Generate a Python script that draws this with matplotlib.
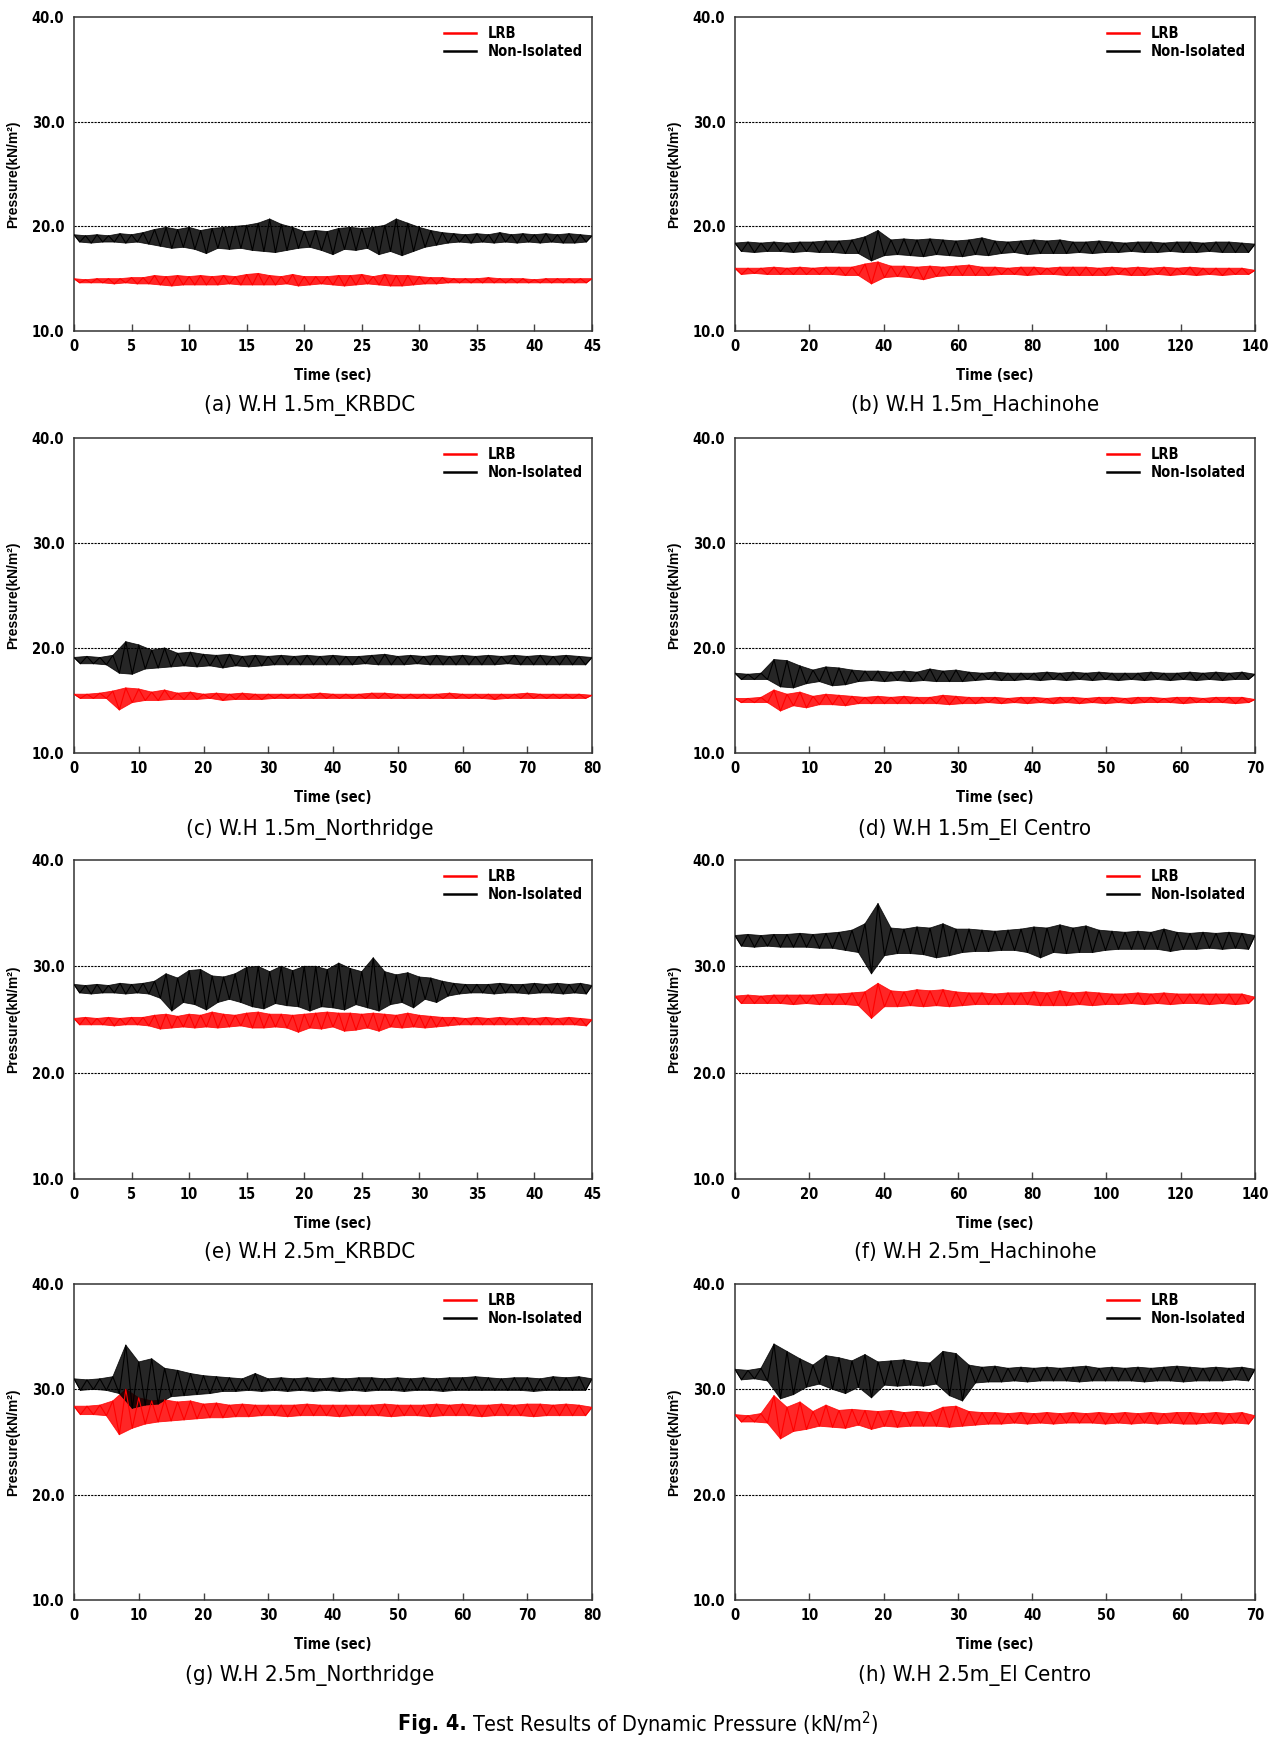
import matplotlib.pyplot as plt
import numpy as np

plt.rcParams['font.family'] = ['DejaVu Sans']
plt.rcParams['font.stretch'] = 'condensed'

# panel captions, record length (sec) and x tick step
titles = ['(a) W.H 1.5m_KRBDC', '(b) W.H 1.5m_Hachinohe',
          '(c) W.H 1.5m_Northridge', '(d) W.H 1.5m_El Centro',
          '(e) W.H 2.5m_KRBDC', '(f) W.H 2.5m_Hachinohe',
          '(g) W.H 2.5m_Northridge', '(h) W.H 2.5m_El Centro']
durations = [45, 140, 80, 70, 45, 140, 80, 70]
xsteps = [5, 20, 10, 10, 5, 20, 10, 10]

# peak / trough pressures (kN/m2), evenly spaced in time
non_a = [19.2,18.5, 19.1,18.4, 19.2,18.5, 19.1,18.5, 19.3,18.4, 19.2,18.5, 19.4,18.3, 19.7,18.1,
         19.9,17.9, 19.7,18.0, 19.9,17.8, 19.6,17.4, 19.8,17.9, 19.9,17.8, 20.0,17.9, 20.1,17.7,
         20.3,17.6, 20.7,17.5, 20.2,17.7, 19.9,17.9, 19.5,18.0, 19.6,17.7, 19.5,17.3, 19.8,17.8,
         19.9,17.7, 19.8,17.9, 19.9,17.3, 20.1,17.6, 20.7,17.2, 20.3,17.6, 19.9,18.0, 19.6,18.2,
         19.4,18.4, 19.3,18.5, 19.2,18.4, 19.3,18.5, 19.2,18.4, 19.4,18.5, 19.2,18.4, 19.3,18.5,
         19.2,18.4, 19.3,18.5, 19.2,18.4, 19.3,18.4, 19.2,18.5, 19.1]
lrb_a = [15.0,14.6, 14.9,14.6, 15.0,14.6, 15.0,14.5, 15.0,14.6, 15.1,14.5, 15.1,14.5, 15.3,14.4,
         15.2,14.3, 15.3,14.4, 15.2,14.4, 15.3,14.4, 15.2,14.4, 15.3,14.5, 15.2,14.4, 15.4,14.4,
         15.5,14.4, 15.3,14.4, 15.2,14.5, 15.4,14.3, 15.2,14.4, 15.2,14.5, 15.2,14.4, 15.3,14.3,
         15.3,14.4, 15.4,14.5, 15.2,14.4, 15.4,14.3, 15.3,14.3, 15.3,14.4, 15.2,14.5, 15.1,14.5,
         15.1,14.6, 15.0,14.6, 15.0,14.6, 15.0,14.6, 15.1,14.6, 15.0,14.6, 15.0,14.6, 15.0,14.6,
         14.9,14.6, 15.0,14.6, 15.0,14.6, 15.0,14.6, 15.0,14.6, 15.0]

non_b = [18.4,17.6, 18.5,17.5, 18.4,17.6, 18.5,17.6, 18.4,17.5, 18.5,17.6, 18.5,17.5, 18.6,17.5,
         18.6,17.4, 18.7,17.4, 19.0,16.7, 19.6,17.2, 18.7,17.3, 18.8,17.2, 18.7,17.1, 18.8,17.3,
         18.7,17.2, 18.6,17.1, 18.7,17.3, 18.9,17.2, 18.6,17.4, 18.5,17.5, 18.6,17.3, 18.7,17.4,
         18.6,17.4, 18.7,17.4, 18.5,17.5, 18.5,17.4, 18.6,17.5, 18.5,17.5, 18.4,17.6, 18.5,17.5,
         18.5,17.5, 18.4,17.6, 18.5,17.5, 18.5,17.5, 18.4,17.6, 18.5,17.5, 18.5,17.5, 18.4,17.5, 18.3]
lrb_b = [16.0,15.4, 16.0,15.5, 16.0,15.4, 16.1,15.4, 16.0,15.4, 16.1,15.4, 16.0,15.4, 16.1,15.4,
         16.1,15.3, 16.1,15.3, 16.4,14.5, 16.6,15.1, 16.2,15.2, 16.2,15.1, 16.1,14.9, 16.2,15.2,
         16.1,15.3, 16.2,15.3, 16.3,15.3, 16.1,15.3, 16.1,15.4, 16.0,15.4, 16.1,15.3, 16.1,15.4,
         16.0,15.4, 16.1,15.3, 16.1,15.3, 16.1,15.3, 16.0,15.3, 16.1,15.4, 16.0,15.3, 16.1,15.3,
         16.0,15.4, 16.1,15.3, 16.0,15.4, 16.1,15.3, 16.0,15.4, 16.0,15.3, 16.0,15.4, 16.0,15.4, 15.8]

non_c = [19.1,18.5, 19.2,18.5, 19.1,18.4, 19.3,17.6, 20.6,17.5, 20.3,18.0, 19.8,18.1, 20.0,18.2,
         19.5,18.3, 19.6,18.2, 19.4,18.3, 19.3,18.1, 19.4,18.3, 19.2,18.2, 19.3,18.3, 19.2,18.4,
         19.3,18.4, 19.2,18.4, 19.3,18.4, 19.2,18.4, 19.3,18.4, 19.2,18.4, 19.2,18.5, 19.3,18.4,
         19.4,18.4, 19.2,18.4, 19.3,18.5, 19.2,18.4, 19.3,18.4, 19.2,18.4, 19.3,18.4, 19.2,18.4,
         19.3,18.4, 19.2,18.5, 19.3,18.4, 19.2,18.4, 19.3,18.4, 19.2,18.4, 19.3,18.4, 19.2,18.4, 19.1]
lrb_c = [15.6,15.2, 15.6,15.2, 15.7,15.2, 15.9,14.1, 16.2,14.8, 16.1,15.0, 15.8,15.0, 16.0,15.1,
         15.7,15.1, 15.8,15.1, 15.6,15.2, 15.7,15.0, 15.6,15.1, 15.7,15.1, 15.6,15.1, 15.6,15.2,
         15.6,15.2, 15.6,15.2, 15.6,15.2, 15.7,15.2, 15.6,15.2, 15.6,15.2, 15.6,15.2, 15.7,15.2,
         15.7,15.2, 15.6,15.2, 15.6,15.2, 15.6,15.2, 15.6,15.2, 15.7,15.2, 15.6,15.2, 15.6,15.2,
         15.6,15.1, 15.6,15.2, 15.6,15.2, 15.7,15.2, 15.6,15.2, 15.6,15.2, 15.6,15.2, 15.6,15.2, 15.5]

non_d = [17.6,17.0, 17.5,17.0, 17.6,17.0, 18.9,16.3, 18.8,16.2, 18.3,16.6, 17.9,16.8, 18.2,16.4,
         18.1,16.5, 17.9,16.8, 17.8,16.9, 17.8,16.8, 17.7,16.9, 17.8,16.8, 17.7,16.9, 18.0,16.8,
         17.8,16.8, 17.9,16.8, 17.7,16.9, 17.6,17.0, 17.7,16.9, 17.6,16.9, 17.6,17.0, 17.6,16.9,
         17.7,17.0, 17.6,16.9, 17.7,17.0, 17.6,16.9, 17.7,17.0, 17.6,16.9, 17.6,17.0, 17.6,16.9,
         17.7,17.0, 17.6,16.9, 17.6,17.0, 17.7,16.9, 17.6,17.0, 17.7,16.9, 17.6,17.0, 17.7,17.0, 17.5]
lrb_d = [15.2,14.8, 15.2,14.8, 15.3,14.8, 16.0,14.0, 15.6,14.5, 15.8,14.3, 15.4,14.6, 15.6,14.6,
         15.5,14.5, 15.4,14.7, 15.3,14.7, 15.4,14.7, 15.3,14.7, 15.4,14.7, 15.3,14.7, 15.3,14.7,
         15.5,14.6, 15.4,14.7, 15.3,14.7, 15.3,14.8, 15.3,14.7, 15.2,14.8, 15.3,14.7, 15.3,14.8,
         15.2,14.7, 15.3,14.8, 15.3,14.7, 15.2,14.8, 15.3,14.7, 15.3,14.8, 15.2,14.7, 15.3,14.8,
         15.3,14.8, 15.2,14.8, 15.3,14.7, 15.3,14.8, 15.2,14.8, 15.3,14.8, 15.3,14.7, 15.3,14.8, 15.1]

non_e = [28.3,27.5, 28.2,27.4, 28.3,27.5, 28.2,27.5, 28.4,27.4, 28.3,27.5, 28.4,27.4, 28.6,27.0,
         29.3,25.8, 28.9,26.6, 29.6,26.4, 29.7,25.9, 29.1,26.6, 29.0,26.9, 29.3,26.6, 29.9,26.2,
         30.0,26.0, 29.5,26.5, 30.0,26.3, 29.6,26.2, 30.0,25.8, 30.0,26.2, 29.7,26.1, 30.3,25.9,
         29.8,26.4, 29.5,26.1, 30.8,25.8, 29.5,26.4, 29.2,26.6, 29.4,26.1, 29.0,26.9, 28.9,26.6,
         28.6,27.2, 28.4,27.4, 28.3,27.5, 28.3,27.5, 28.3,27.4, 28.4,27.5, 28.3,27.5, 28.3,27.4,
         28.4,27.5, 28.3,27.5, 28.4,27.4, 28.3,27.5, 28.4,27.4, 28.2]
lrb_e = [25.1,24.5, 25.2,24.5, 25.1,24.5, 25.2,24.4, 25.1,24.5, 25.2,24.5, 25.2,24.4, 25.4,24.1,
         25.5,24.2, 25.3,24.3, 25.5,24.2, 25.4,24.3, 25.7,24.2, 25.5,24.3, 25.4,24.4, 25.6,24.2,
         25.7,24.2, 25.5,24.3, 25.5,24.2, 25.4,23.8, 25.5,24.2, 25.6,24.1, 25.7,24.3, 25.6,23.9,
         25.6,24.0, 25.5,24.2, 25.6,23.9, 25.5,24.3, 25.4,24.2, 25.6,24.3, 25.4,24.2, 25.3,24.3,
         25.2,24.4, 25.2,24.5, 25.1,24.5, 25.2,24.5, 25.1,24.5, 25.2,24.5, 25.1,24.5, 25.2,24.5,
         25.1,24.5, 25.2,24.5, 25.1,24.5, 25.2,24.5, 25.1,24.4, 25.0]

non_f = [32.9,31.9, 33.0,31.8, 32.9,31.9, 33.0,31.8, 33.0,31.8, 33.1,31.8, 33.0,31.7, 33.1,31.7,
         33.2,31.5, 33.4,31.3, 34.0,29.3, 35.9,31.0, 33.6,31.2, 33.5,31.2, 33.7,31.1, 33.6,30.8,
         34.0,31.0, 33.5,31.3, 33.5,31.4, 33.4,31.4, 33.3,31.5, 33.4,31.5, 33.5,31.3, 33.7,30.8,
         33.6,31.3, 33.9,31.2, 33.6,31.3, 33.8,31.3, 33.4,31.5, 33.3,31.6, 33.2,31.6, 33.3,31.6,
         33.2,31.6, 33.5,31.4, 33.2,31.6, 33.1,31.6, 33.2,31.7, 33.1,31.6, 33.2,31.7, 33.1,31.6, 32.9]
lrb_f = [27.2,26.5, 27.3,26.5, 27.2,26.5, 27.3,26.5, 27.3,26.4, 27.3,26.5, 27.3,26.4, 27.4,26.4,
         27.4,26.4, 27.5,26.3, 27.6,25.1, 28.4,26.2, 27.7,26.2, 27.6,26.3, 27.8,26.2, 27.7,26.3,
         27.8,26.2, 27.6,26.3, 27.5,26.4, 27.5,26.4, 27.4,26.4, 27.5,26.4, 27.5,26.4, 27.6,26.3,
         27.5,26.3, 27.7,26.3, 27.5,26.4, 27.6,26.3, 27.5,26.4, 27.4,26.4, 27.4,26.5, 27.5,26.4,
         27.4,26.5, 27.5,26.4, 27.4,26.5, 27.4,26.5, 27.4,26.4, 27.4,26.5, 27.4,26.4, 27.4,26.5, 27.1]

non_g = [31.0,29.9, 30.9,30.0, 31.0,29.9, 31.2,29.6, 34.2,28.2, 32.6,28.5, 32.9,28.6, 32.0,29.3,
         31.8,29.4, 31.5,29.5, 31.3,29.6, 31.2,29.8, 31.1,29.8, 31.0,29.9, 31.5,29.8, 31.0,29.9,
         31.1,29.8, 31.0,29.9, 31.1,29.8, 31.0,29.9, 31.1,29.8, 31.0,29.9, 31.1,29.8, 31.1,29.9,
         31.0,29.9, 31.1,29.8, 31.0,29.9, 31.1,29.9, 31.0,29.8, 31.1,29.9, 31.1,29.9, 31.2,29.9,
         31.1,29.9, 31.0,29.9, 31.1,29.9, 31.1,29.8, 31.0,29.9, 31.2,29.9, 31.1,29.9, 31.2,29.9, 31.0]
lrb_g = [28.4,27.6, 28.4,27.6, 28.5,27.5, 28.9,25.7, 30.0,26.3, 29.2,26.7, 28.9,26.9, 29.0,27.0,
         28.8,27.1, 28.9,27.2, 28.6,27.3, 28.7,27.3, 28.5,27.4, 28.6,27.4, 28.5,27.5, 28.5,27.5,
         28.5,27.4, 28.5,27.5, 28.6,27.5, 28.5,27.5, 28.5,27.4, 28.5,27.5, 28.5,27.5, 28.5,27.5,
         28.6,27.4, 28.5,27.5, 28.5,27.5, 28.5,27.4, 28.6,27.5, 28.5,27.5, 28.6,27.5, 28.5,27.4,
         28.5,27.5, 28.6,27.5, 28.5,27.5, 28.6,27.4, 28.6,27.5, 28.5,27.5, 28.6,27.5, 28.5,27.5, 28.3]

non_h = [31.9,30.9, 31.8,31.0, 32.0,30.8, 34.3,29.1, 33.6,29.5, 32.9,30.2, 32.3,30.5, 33.2,30.0,
         33.0,29.6, 32.7,30.2, 33.3,29.2, 32.6,30.4, 32.7,30.3, 32.8,30.4, 32.6,30.3, 32.5,30.5,
         33.6,29.4, 33.4,28.9, 32.3,30.6, 32.1,30.7, 32.2,30.7, 32.0,30.8, 32.1,30.7, 32.0,30.8,
         32.1,30.8, 32.0,30.8, 32.1,30.7, 32.2,30.8, 32.0,30.8, 32.1,30.8, 32.0,30.8, 32.1,30.7,
         32.0,30.8, 32.1,30.8, 32.2,30.7, 32.1,30.8, 32.0,30.8, 32.1,30.8, 32.0,30.9, 32.1,30.8, 31.9]
lrb_h = [27.6,26.9, 27.5,26.9, 27.7,26.8, 29.4,25.3, 28.3,26.0, 28.8,26.2, 27.9,26.5, 28.5,26.4,
         28.0,26.3, 28.1,26.6, 28.0,26.2, 27.9,26.5, 28.0,26.4, 27.8,26.5, 27.9,26.5, 27.8,26.5,
         28.3,26.4, 28.4,26.5, 27.9,26.6, 27.8,26.7, 27.8,26.7, 27.7,26.8, 27.8,26.7, 27.7,26.8,
         27.8,26.7, 27.7,26.8, 27.8,26.8, 27.7,26.8, 27.8,26.7, 27.7,26.8, 27.8,26.7, 27.7,26.8,
         27.8,26.7, 27.7,26.8, 27.8,26.7, 27.8,26.7, 27.7,26.8, 27.8,26.7, 27.7,26.8, 27.8,26.7, 27.5]

lrb_all = [lrb_a, lrb_b, lrb_c, lrb_d, lrb_e, lrb_f, lrb_g, lrb_h]
non_all = [non_a, non_b, non_c, non_d, non_e, non_f, non_g, non_h]


def draw_record(ax, T, vals, color, label):
    t = np.linspace(0, T, len(vals))
    v = np.asarray(vals)
    # peaks sit on even samples, troughs on odd ones -> fill the band between them
    th, vh = t[0::2], v[0::2]
    tl, vl = t[1::2], v[1::2]
    ax.fill(np.r_[th, tl[::-1]], np.r_[vh, vl[::-1]], facecolor=color,
            edgecolor=color, lw=0.6, alpha=0.85, zorder=2)
    ax.plot(t, v, color=color, lw=0.8, label=label, zorder=3)


W, H = 1284.0, 1742.0
fig = plt.figure(figsize=(W / 100, H / 100), dpi=100)

col_x = [(74, 592), (735, 1255)]
row_y = [(17, 331), (438, 753), (860, 1179), (1284, 1600)]
title_x = [310, 975]
title_y = [406, 829, 1252, 1675]

for i in range(8):
    r, c = divmod(i, 2)
    x0, x1 = col_x[c]
    y0, y1 = row_y[r]
    ax = fig.add_axes([x0 / W, 1 - y1 / H, (x1 - x0) / W, (y1 - y0) / H])
    T = durations[i]

    ax.axhline(20, color='black', lw=0.8, ls=(0, (2, 1)), zorder=1)
    ax.axhline(30, color='black', lw=0.8, ls=(0, (2, 1)), zorder=1)

    draw_record(ax, T, lrb_all[i], '#ff0000', 'LRB')
    draw_record(ax, T, non_all[i], 'black', 'Non-Isolated')

    ax.set_xlim(0, T)
    ax.set_ylim(10, 40)
    ax.set_xticks(np.arange(0, T + 0.1, xsteps[i]))
    ax.set_yticks([10, 20, 30, 40])
    ax.set_yticklabels(['10.0', '20.0', '30.0', '40.0'])
    ax.tick_params(axis='x', direction='in', length=5, width=1, color='#444444',
                   labelsize=10.5, pad=6)
    ax.tick_params(axis='y', length=0, labelsize=10.5, pad=7)
    for lab in ax.get_xticklabels() + ax.get_yticklabels():
        lab.set_fontweight('bold')
    for sp in ax.spines.values():
        sp.set_color('#333333')
        sp.set_linewidth(1.1)

    ax.set_xlabel('Time (sec)', fontsize=10.5, fontweight='bold', labelpad=10)
    ax.set_ylabel('Pressure(kN/m²)', fontsize=10, fontweight='bold',
                  family=['Liberation Sans', 'DejaVu Sans'])
    ax.yaxis.set_label_coords(-0.104, 0.5)

    leg = ax.legend(loc='upper right', frameon=False, fontsize=10.5,
                    handlelength=2.2, handletextpad=0.8, labelspacing=0.2,
                    borderaxespad=0.25)
    for txt in leg.get_texts():
        txt.set_fontweight('bold')
    for ln in leg.get_lines():
        ln.set_linewidth(1.8)

    fig.text(title_x[c] / W, 1 - title_y[r] / H, titles[i], fontsize=16,
             ha='center', va='center')

fig.text(467 / W, 1 - 1724 / H, 'Fig. 4.', fontsize=15.5, fontweight='bold',
         ha='right', va='center')
fig.text(472 / W, 1 - 1724 / H, 'Test Results of Dynamic Pressure (kN/m$^2$)',
         fontsize=15.5, ha='left', va='center')

fig.savefig('out.png', dpi=100)
